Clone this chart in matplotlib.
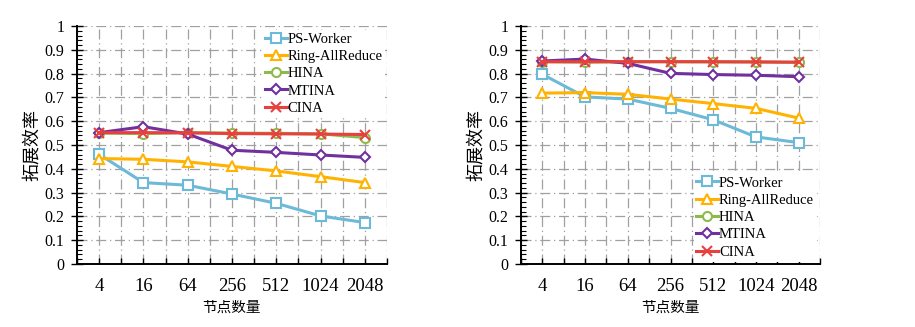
import matplotlib
matplotlib.use("Agg")
import matplotlib.pyplot as plt
from matplotlib.ticker import MultipleLocator, FixedLocator

plt.rcParams['font.family'] = ['Liberation Serif', 'Noto Sans CJK SC']

node_counts = ["4", "16", "64", "256", "512", "1024", "2048"]
series_names = ["PS-Worker", "Ring-AllReduce", "HINA", "MTINA", "CINA"]

# left panel
ps_left = [0.461, 0.342, 0.331, 0.294, 0.255, 0.202, 0.174]
ring_left = [0.443, 0.440, 0.429, 0.410, 0.391, 0.367, 0.342]
hina_left = [0.550, 0.548, 0.552, 0.550, 0.549, 0.547, 0.531]
mtina_left = [0.552, 0.577, 0.546, 0.478, 0.469, 0.458, 0.448]
cina_left = [0.552, 0.552, 0.551, 0.548, 0.547, 0.546, 0.544]

# right panel
ps_right = [0.797, 0.702, 0.693, 0.654, 0.606, 0.534, 0.510]
ring_right = [0.718, 0.720, 0.713, 0.693, 0.674, 0.654, 0.613]
hina_right = [0.850, 0.848, 0.850, 0.850, 0.849, 0.849, 0.847]
mtina_right = [0.853, 0.861, 0.843, 0.801, 0.796, 0.793, 0.787]
cina_right = [0.850, 0.850, 0.850, 0.850, 0.850, 0.849, 0.848]

colors = ["#6DB9D8", "#FFB300", "#8CBB4A", "#7030A0", "#E8403F"]
markers = ["s", "^", "o", "D", "x"]
msizes = [7, 7.5, 6.5, 5.5, 7.5]

y_label = "拓展效率"
x_label = "节点数量"

fig = plt.figure(figsize=(9.15, 3.27), dpi=100)
ax_l = fig.add_axes([77 / 915, 63 / 327, 310 / 915, 238 / 327])
ax_r = fig.add_axes([521 / 915, 63 / 327, 299 / 915, 238 / 327])


def draw_panel(ax, data, legend_loc, legend_anchor):
    x = list(range(len(node_counts)))
    for vals, name, c, m, ms in zip(data, series_names, colors, markers, msizes):
        ax.plot(x, vals, color=c, lw=2.2, marker=m, markersize=ms,
                markerfacecolor="white", markeredgecolor=c, markeredgewidth=1.5,
                label=name, zorder=3)
    ax.set_xlim(-0.5, len(node_counts) - 0.5)
    ax.set_ylim(0, 1)

    # category labels on major ticks, boundaries on minor ticks
    ax.set_xticks(x)
    ax.set_xticklabels(node_counts)
    ax.xaxis.set_minor_locator(FixedLocator([i + 0.5 for i in range(-1, len(node_counts))]))
    ax.tick_params(axis="x", which="both", direction="in", length=4, width=1, top=False)
    ax.tick_params(axis="x", which="major", pad=10, labelsize=13.5)

    ax.set_yticks([i / 10 for i in range(11)])
    ax.set_yticklabels(["0", "0.1", "0.2", "0.3", "0.4", "0.5", "0.6", "0.7", "0.8", "0.9", "1"])
    ax.yaxis.set_minor_locator(MultipleLocator(0.02))
    ax.tick_params(axis="y", which="major", direction="inout", length=8, width=1, labelsize=11.5, pad=5)
    ax.tick_params(axis="y", which="minor", direction="in", length=3.5, width=0.8)

    ax.grid(True, which="both", axis="x", color="#A0A0A0", lw=0.9, dashes=(8, 3, 1, 3))
    ax.grid(True, which="major", axis="y", color="#A0A0A0", lw=0.9, dashes=(8, 3, 1, 3))
    ax.set_axisbelow(True)

    for s in ("top", "right"):
        ax.spines[s].set_visible(False)
    for s in ("left", "bottom"):
        ax.spines[s].set_linewidth(1.4)

    ax.set_ylabel(y_label, fontsize=13, family=['Noto Sans CJK SC'], labelpad=3)
    ax.set_xlabel(x_label, fontsize=10.5, family=['Noto Sans CJK SC'], labelpad=4)

    leg = ax.legend(loc=legend_loc, bbox_to_anchor=legend_anchor, frameon=True,
                    fancybox=False, edgecolor="none", facecolor="white", framealpha=1,
                    fontsize=10.5, handlelength=1.5, handletextpad=0.05,
                    labelspacing=0.28, borderpad=0.2, borderaxespad=0.0)
    leg.set_zorder(5)


draw_panel(ax_l, [ps_left, ring_left, hina_left, mtina_left, cina_left],
           "upper right", (0.995, 0.985))
draw_panel(ax_r, [ps_right, ring_right, hina_right, mtina_right, cina_right],
           "lower right", (0.99, 0.01))

fig.savefig("out.png", dpi=100)
